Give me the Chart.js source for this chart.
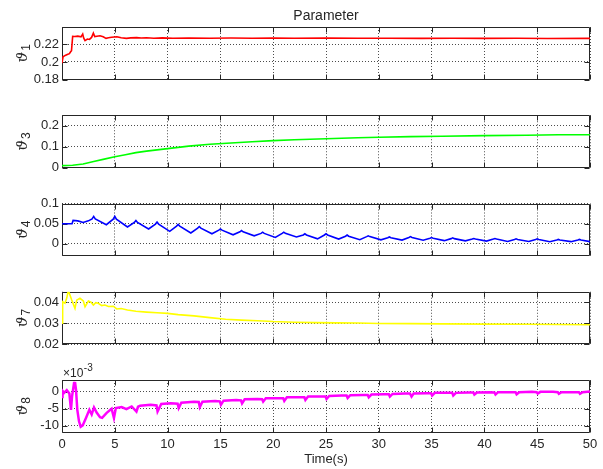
<!DOCTYPE html>
<html>
<head>
<meta charset="utf-8">
<script src="https://cdn.jsdelivr.net/npm/chart.js@4.4.0/dist/chart.umd.min.js"></script>
<style>
  html, body { margin: 0; padding: 0; background: #fff; }
  #fig { position: relative; width: 603px; height: 469px; }
  #fig canvas { position: absolute; left: 0; top: 0; }
</style>
</head>
<body>
<div id="fig">
  <canvas id="p1" width="603" height="469"></canvas>
  <canvas id="p2" width="603" height="469"></canvas>
  <canvas id="p3" width="603" height="469"></canvas>
  <canvas id="p4" width="603" height="469"></canvas>
  <canvas id="p5" width="603" height="469"></canvas>
</div>
<script>
// ---- parameter estimates over time ----
const xTicks = [0, 5, 10, 15, 20, 25, 30, 35, 40, 45, 50];

const timeTheta1 = [0, 0.1, 0.3, 0.5, 0.7, 0.8, 0.9, 1.01, 1.2, 1.5, 1.8, 1.96, 2.05, 2.18, 2.4, 2.6, 2.8, 2.97, 3.1, 3.3, 3.6, 3.9, 4.17, 4.4, 4.7, 5.2, 5.6, 6.1, 6.5, 7.07, 7.5, 8, 8.7, 9.5, 10.5, 12, 14, 16, 18, 20, 22, 25, 28, 31, 34, 37, 40, 43, 46, 50];
const theta1 = [0.1986, 0.206, 0.2075, 0.2086, 0.2095, 0.2114, 0.213, 0.2293, 0.2292, 0.2296, 0.2288, 0.2319, 0.2275, 0.2244, 0.2263, 0.2258, 0.2281, 0.233, 0.229, 0.2295, 0.2300, 0.2289, 0.227, 0.2278, 0.2283, 0.2289, 0.2278, 0.227, 0.2276, 0.2278, 0.2274, 0.2277, 0.2272, 0.2276, 0.2271, 0.2275, 0.2272, 0.2274, 0.2272, 0.2275, 0.2271, 0.2273, 0.2271, 0.2272, 0.227, 0.2272, 0.227, 0.2271, 0.2269, 0.227];

const timeTheta3 = [0, 1, 2, 3, 4, 5, 6, 7, 8, 9, 10, 12, 14, 16, 18, 20, 22, 25, 28, 30, 33, 36, 40, 44, 47, 50];
const theta3 = [0.010, 0.012, 0.018, 0.030, 0.041, 0.052, 0.062, 0.072, 0.079, 0.085, 0.091, 0.103, 0.112, 0.118, 0.124, 0.129, 0.133, 0.138, 0.143, 0.145, 0.148, 0.150, 0.153, 0.155, 0.157, 0.157];

const timeTheta4 = [0, 0.95, 1.05, 1.5, 2.0, 2.5,
  2.85, 3, 3.15, 4.2, 4.85, 5, 5.15, 6.2, 6.85, 7, 7.15, 8.2, 8.85, 9, 9.15, 10.2,
  10.85, 11, 11.15, 12.2, 12.85, 13, 13.15, 14.2, 14.85, 15, 15.15, 16.2, 16.85, 17, 17.15, 18.2,
  18.85, 19, 19.15, 20.2, 20.85, 21, 21.15, 22.2, 22.85, 23, 23.15, 24.2, 24.85, 25, 25.15, 26.2,
  26.85, 27, 27.15, 28.2, 28.85, 29, 29.15, 30.2, 30.85, 31, 31.15, 32.2, 32.85, 33, 33.15, 34.2,
  34.85, 35, 35.15, 36.2, 36.85, 37, 37.15, 38.2, 38.85, 39, 39.15, 40.2, 40.85, 41, 41.15, 42.2,
  42.85, 43, 43.15, 44.2, 44.85, 45, 45.15, 46.2, 46.85, 47, 47.15, 48.2, 48.85, 49, 49.15, 50];
const theta4 = [0.05, 0.05, 0.058, 0.057, 0.053, 0.057,
  0.062, 0.068, 0.062, 0.0475, 0.061, 0.068, 0.061, 0.042, 0.053, 0.058, 0.053, 0.037, 0.049, 0.054, 0.049, 0.031,
  0.044, 0.048, 0.044, 0.027, 0.039, 0.043, 0.039, 0.025, 0.034, 0.037, 0.034, 0.0225, 0.030, 0.033, 0.030, 0.020,
  0.026, 0.029, 0.026, 0.016, 0.026, 0.029, 0.026, 0.017, 0.022, 0.025, 0.022, 0.0125, 0.022, 0.025, 0.022, 0.012,
  0.019, 0.022, 0.019, 0.0105, 0.018, 0.020, 0.018, 0.010, 0.015, 0.017, 0.015, 0.0095, 0.016, 0.018, 0.016, 0.009,
  0.014, 0.0155, 0.014, 0.008, 0.013, 0.015, 0.013, 0.0075, 0.012, 0.0133, 0.012, 0.007, 0.012, 0.0133, 0.012, 0.006,
  0.011, 0.0125, 0.011, 0.006, 0.011, 0.0125, 0.011, 0.0055, 0.0095, 0.011, 0.0095, 0.0055, 0.0095, 0.011, 0.0095, 0.0055];

const timeTheta7 = [0, 0.06, 0.28, 0.45, 0.6, 0.92, 1.23, 1.39, 1.7, 2.02, 2.18, 2.5, 2.75, 2.97, 3.2, 3.44, 3.76, 4.07, 4.39, 4.86, 5.18, 5.6, 6.2, 7, 8, 9, 10, 11, 12.5, 14, 15.5, 17, 18.5, 20, 22, 24, 26, 28, 30, 33, 36, 40, 44, 47, 50];
const theta7 = [0.030, 0.0403, 0.0395, 0.0420, 0.0456, 0.0411, 0.0371, 0.0410, 0.0419, 0.0406, 0.0379, 0.0406, 0.0400, 0.0387, 0.0398, 0.0395, 0.0384, 0.0387, 0.0380, 0.0381, 0.0368, 0.0370, 0.0363, 0.0357, 0.0353, 0.0350, 0.0347, 0.0341, 0.0335, 0.0327, 0.0319, 0.0315, 0.0312, 0.0308, 0.0305, 0.0303, 0.0302, 0.0301, 0.0299, 0.0298, 0.0297, 0.0296, 0.0295, 0.0294, 0.0293];

// theta8 in units of 1e-3
const timeTheta8 = [0, 0.05, 0.2, 0.45, 0.7, 0.85, 0.95, 1.14, 1.23, 1.33, 1.45, 1.61, 1.77, 1.96, 2.27, 2.59, 2.81, 3.03, 3.28, 3.6, 3.8, 4.23, 4.7, 4.92, 5.1, 5.65, 6.1, 6.6, 7.05, 7.2, 7.4, 8.4,
  8.95, 9.05, 9.4, 10.3, 10.95, 11.05, 11.3, 12.5, 12.95, 13.05, 13.3, 14.5, 14.95, 15.05, 15.3, 16.5, 16.95, 17.05, 17.3, 18.5,
  18.95, 19.05, 19.3, 20.5, 20.95, 21.05, 21.3, 22.5, 22.95, 23.05, 23.3, 24.5, 24.95, 25.05, 25.3, 26.5, 26.95, 27.05, 27.3, 28.5,
  28.95, 29.05, 29.3, 30.5, 30.95, 31.05, 31.3, 32.5, 32.95, 33.1, 33.3, 34.5, 34.95, 35.05, 35.3, 36.5, 36.95, 37.05, 37.3, 38.5,
  38.95, 39.05, 39.3, 40.5, 40.95, 41.05, 41.3, 42.5, 42.95, 43.05, 43.3, 44.5, 44.95, 45.05, 45.3, 46.5, 46.95, 47.05, 47.3, 48.5,
  48.95, 49.05, 49.3, 50];
const theta8 = [-1.5, 0.3, -0.3, 0.5, -0.5, -5.3, -1.4, 2.6, 2.9, 0.5, -5.3, -8.7, -10.3, -9.9, -7.7, -5.3, -6.7, -4.6, -6.1, -7.5, -7.7, -6.2, -5.0, -7.7, -4.8, -4.5, -5.1, -4.3, -5.8, -4.4, -4.1, -3.8,
  -4.0, -5.8, -3.6, -3.4, -3.5, -4.8, -3.2, -2.9, -3.0, -4.5, -2.9, -2.7, -2.8, -3.8, -2.6, -2.4, -2.5, -3.4, -2.2, -2.1,
  -2.2, -2.9, -1.9, -1.9, -1.9, -2.7, -1.6, -1.6, -1.6, -2.4, -1.4, -1.4, -1.4, -2.1, -1.2, -1.1, -1.1, -1.8, -1.0, -0.9,
  -0.9, -1.6, -0.8, -0.7, -0.7, -1.4, -0.6, -0.5, -0.5, -1.4, -0.5, -0.4, -0.4, -1.1, -0.3, -0.3, -0.3, -1.1, -0.3, -0.2,
  -0.2, -0.8, -0.2, -0.1, -0.2, -0.8, -0.1, -0.1, -0.1, -0.7, -0.1, 0, -0.1, -0.5, 0, 0, -0.1, -0.6, -0.1, -0.1,
  -0.1, -0.6, -0.1, 0.1];

const yTicks1 = [0.18, 0.2, 0.22];
const yTicks3 = [0, 0.1, 0.2];
const yTicks4 = [0, 0.05, 0.1];
const yTicks7 = [0.02, 0.03, 0.04];
const yTicks8 = [-10, -5, 0];

// ---- layout ----
const FIG_W = 603, FIG_H = 469;
const AX_LEFT = 62, AX_RIGHT = 590;
const AX_TOPS = [27, 115.25, 203.5, 291.75, 380];
const AX_H = 52.5;
const SANS = "'Liberation Sans', Arial, Helvetica, sans-serif";
const INK = '#262626';

const panels = [
  { t: timeTheta1, v: theta1, sub: '1', color: '#ff0000', width: 1.6, min: 0.18, max: 0.24, ticks: yTicks1 },
  { t: timeTheta3, v: theta3, sub: '3', color: '#00ff00', width: 1.6, min: 0, max: 0.25, ticks: yTicks3 },
  { t: timeTheta4, v: theta4, sub: '4', color: '#0000ff', width: 1.6, min: -0.03, max: 0.1, ticks: yTicks4 },
  { t: timeTheta7, v: theta7, sub: '7', color: '#ffff00', width: 1.6, min: 0.02, max: 0.045, ticks: yTicks7 },
  { t: timeTheta8, v: theta8, sub: '8', color: '#ff00ff', width: 2.5, min: -12, max: 3.5, ticks: yTicks8 }
];

const fmt = v => String(+Number(v).toFixed(4));

// box with inward tick marks, like a classic MATLAB axes
const matlabFrame = {
  id: 'matlabFrame',
  beforeDatasetsDraw(chart) {
    const { ctx, chartArea: a, scales: { x, y } } = chart;
    const L = Math.round(a.left) + 0.5, R = Math.round(a.right) - 0.5;
    const T = Math.round(a.top) + 0.5, B = Math.round(a.bottom) - 0.5;
    ctx.save();
    ctx.strokeStyle = INK;
    ctx.lineWidth = 1;
    ctx.beginPath();
    ctx.rect(L, T, R - L, B - T);
    x.ticks.forEach(tk => {
      const px = Math.round(x.getPixelForValue(tk.value)) + 0.5;
      ctx.moveTo(px, T); ctx.lineTo(px, T + 5);
      ctx.moveTo(px, B); ctx.lineTo(px, B - 5);
    });
    y.ticks.forEach(tk => {
      const py = Math.round(y.getPixelForValue(tk.value)) + 0.5;
      ctx.moveTo(L, py); ctx.lineTo(L + 5, py);
      ctx.moveTo(R, py); ctx.lineTo(R - 5, py);
    });
    ctx.stroke();
    ctx.restore();
  }
};

// y label (vartheta with subscript), plus figure title / xlabel / exponent
const panelText = {
  id: 'panelText',
  afterDraw(chart, args, opts) {
    const { ctx, chartArea: a } = chart;
    const thetaFont = "italic 15px 'DejaVu Serif', serif";
    const subFont = '12px ' + SANS;
    ctx.save();
    ctx.fillStyle = INK;
    ctx.textAlign = 'left';
    ctx.textBaseline = 'alphabetic';
    ctx.translate(27, (a.top + a.bottom) / 2);
    ctx.rotate(-Math.PI / 2);
    ctx.font = thetaFont;
    const wTheta = ctx.measureText('ϑ').width;
    ctx.font = subFont;
    const wSub = ctx.measureText(opts.sub).width;
    const x0 = -(wTheta + wSub + 1) / 2;
    ctx.font = thetaFont;
    ctx.fillText('ϑ', x0, 0);
    ctx.font = subFont;
    ctx.fillText(opts.sub, x0 + wTheta + 1, 3);
    ctx.restore();

    ctx.save();
    ctx.fillStyle = INK;
    if (opts.title) {
      ctx.font = '14px ' + SANS;
      ctx.textAlign = 'center';
      ctx.textBaseline = 'middle';
      ctx.fillText(opts.title, (a.left + a.right) / 2, 16);
    }
    if (opts.xlabel) {
      ctx.font = '13px ' + SANS;
      ctx.textAlign = 'center';
      ctx.textBaseline = 'middle';
      ctx.fillText(opts.xlabel, (a.left + a.right) / 2, 459);
    }
    if (opts.exponent) {
      ctx.textAlign = 'left';
      ctx.textBaseline = 'alphabetic';
      ctx.font = '12px ' + SANS;
      ctx.fillText('×10', a.left + 1, a.top - 3);
      const w = ctx.measureText('×10').width;
      ctx.font = '10px ' + SANS;
      ctx.fillText(opts.exponent, a.left + 1 + w + 0.5, a.top - 9);
    }
    ctx.restore();
  }
};

function makeChart(p, i) {
  const last = i === panels.length - 1;
  const bottomSpace = FIG_H - AX_TOPS[i] - AX_H;
  const gridStyle = { color: 'rgba(0,0,0,0.7)', lineWidth: 1, drawTicks: false };
  const borderStyle = { display: false, dash: [1, 2] };
  return new Chart(document.getElementById('p' + (i + 1)), {
    type: 'line',
    data: {
      datasets: [{
        data: p.t.map((t, k) => ({ x: t, y: p.v[k] })),
        borderColor: p.color,
        borderWidth: p.width,
        pointRadius: 0,
        tension: 0,
        fill: false
      }]
    },
    options: {
      responsive: false,
      animation: false,
      events: [],
      // the axes boxes take the left and bottom margins so their labels are not clipped
      layout: {
        padding: { left: 0, right: FIG_W - AX_RIGHT, top: AX_TOPS[i], bottom: last ? 0 : bottomSpace }
      },
      scales: {
        x: {
          type: 'linear', min: 0, max: 50,
          afterBuildTicks: s => { s.ticks = xTicks.map(v => ({ value: v })); },
          afterFit: s => { s.height = last ? bottomSpace : 0; },
          grid: gridStyle,
          border: borderStyle,
          ticks: { display: last, padding: 4, maxRotation: 0, autoSkip: false, color: INK, font: { family: SANS, size: 13 }, callback: fmt }
        },
        y: {
          type: 'linear', min: p.min, max: p.max,
          afterBuildTicks: s => { s.ticks = p.ticks.map(v => ({ value: v })); },
          afterFit: s => { s.width = AX_LEFT; },
          grid: gridStyle,
          border: borderStyle,
          ticks: { padding: 3, color: INK, font: { family: SANS, size: 13 }, callback: fmt }
        }
      },
      plugins: {
        legend: { display: false },
        tooltip: { enabled: false },
        panelText: {
          sub: p.sub,
          title: i === 0 ? 'Parameter' : null,
          xlabel: last ? 'Time(s)' : null,
          exponent: last ? '-3' : null
        }
      }
    },
    plugins: [matlabFrame, panelText]
  });
}

panels.forEach(makeChart);
</script>
</body>
</html>
